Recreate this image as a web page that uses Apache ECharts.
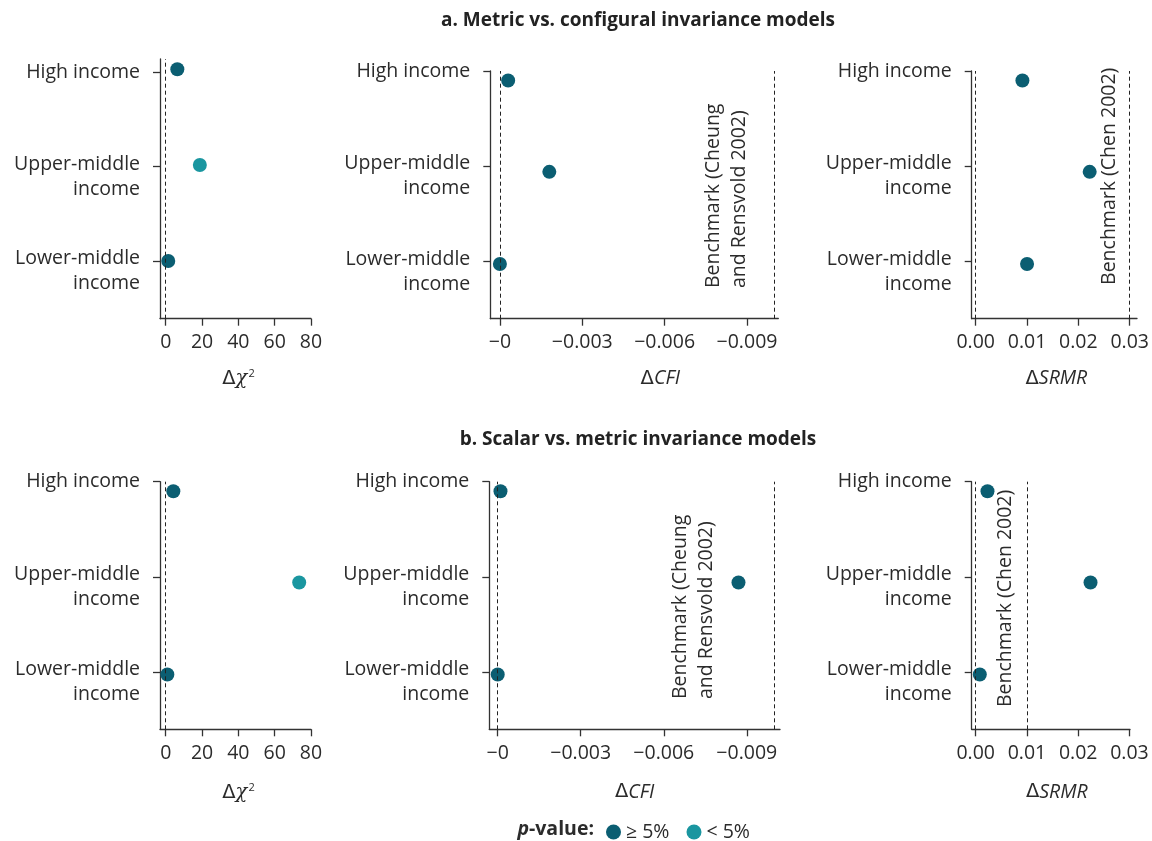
<!DOCTYPE html>
<html><head><meta charset="utf-8">
<script src="https://cdn.jsdelivr.net/npm/echarts@6/dist/echarts.min.js"></script>
<style>html,body{margin:0;padding:0;background:#fff}#c{width:1152px;height:841px}</style>
</head><body><div id="c"></div>
<script>
// ---------------- data ----------------
const categories = ['High income', 'Upper-middle income', 'Lower-middle income'];
const categoryLabels = ['High income', 'Upper-middle\nincome', 'Lower-middle\nincome'];
const categoryPos = [3, 2, 1];
const yDodgeA1 = [0.029, 0.018, 0.003];
const yDodge = [-0.10, -0.058, -0.025];

const chi2A = [6.4, 18.8, 1.4];
const cfiA = [-0.0003, -0.0018, 0.0];
const srmrA = [0.0091, 0.0222, 0.0100];
const chi2B = [4.2, 73.5, 0.9];
const cfiB = [-0.0001, -0.0087, 0.0];
const srmrB = [0.0023, 0.0224, 0.0008];

// p-value < 5% flags
const chi2BelowA = [false, true, false];
const cfiBelowA = [false, false, false];
const srmrBelowA = [false, false, false];
const chi2BelowB = [false, true, false];
const cfiBelowB = [false, false, false];
const srmrBelowB = [false, false, false];

const chi2Ticks = [0, 20, 40, 60, 80];
const cfiTicks = [0, -0.003, -0.006, -0.009];
const srmrTicks = [0, 0.01, 0.02, 0.03];

const cfiBenchmark = -0.0098;
const srmrBenchmarkA = 0.03;
const srmrBenchmarkB = 0.0097;
const cfiBenchmarkLabel = 'Benchmark (Cheung\nand Rensvold 2002)';
const srmrBenchmarkLabel = 'Benchmark (Chen 2002)';

const panelTitles = ['a. Metric vs. configural invariance models', 'b. Scalar vs. metric invariance models'];
const legendNames = ['≥ 5%', '< 5%'];

// ---------------- style ----------------
const FONT = 'Open Sans';
const TXT = '#2b2b2b';
const DARK = '#0B5E72';
const LIGHT = '#1A96A0';
const AXIS = '#333333';
const FS = 19.5;

const kinds = {
  chi2: { ticks: chi2Ticks, name: '{d|Δ}{i|χ}{s|2}', fmt: v => String(v) },
  cfi: { ticks: cfiTicks, name: '{d|Δ}{i|CFI}', fmt: v => '\u2212' + (v === 0 ? '0' : Math.abs(v).toFixed(3)), inverse: true },
  srmr: { ticks: srmrTicks, name: '{d|Δ}{i|SRMR}', fmt: v => v.toFixed(2) }
};

const panels = [
  { kind: 'chi2', values: chi2A, below: chi2BelowA, dodge: yDodgeA1, grid: { left: 160, top: 59, width: 151, height: 259.7 }, x: [-3.14, 80], y: [0.394, 3.137], nameGap: 50, nameShift: 3 },
  { kind: 'cfi', values: cfiA, below: cfiBelowA, dodge: yDodge, grid: { left: 490.3, top: 71, width: 288, height: 247.7 }, x: [-0.01014, 0.00035], y: [0.402, 3], nameGap: 50, nameShift: 26, bench: cfiBenchmark, benchLabel: cfiBenchmarkLabel, benchGap: 17, benchY: 0.724 },
  { kind: 'srmr', values: srmrA, below: srmrBelowA, dodge: yDodge, grid: { left: 971.7, top: 71, width: 165.6, height: 247.7 }, x: [-0.00078, 0.03142], y: [0.402, 3], nameGap: 50, nameShift: 2, bench: srmrBenchmarkA, benchLabel: srmrBenchmarkLabel, benchGap: 7, benchY: 0.756 },
  { kind: 'chi2', values: chi2B, below: chi2BelowB, dodge: yDodge, grid: { left: 160, top: 481.7, width: 151, height: 247.6 }, x: [-3.14, 80], y: [0.4, 3], nameGap: 53, nameShift: 3 },
  { kind: 'cfi', values: cfiB, below: cfiBelowB, dodge: yDodge, grid: { left: 489.3, top: 481.7, width: 290.7, height: 247.6 }, x: [-0.0102, 0.000304], y: [0.4, 3], nameGap: 53, nameShift: 0, bench: cfiBenchmark, benchLabel: cfiBenchmarkLabel, benchGap: 49, benchY: 0.718 },
  { kind: 'srmr', values: srmrB, below: srmrBelowB, dodge: yDodge, grid: { left: 971.7, top: 481.7, width: 158.3, height: 247.6 }, x: [-0.00078, 0.0301], y: [0.4, 3], nameGap: 53, nameShift: 6, bench: srmrBenchmarkB, benchLabel: srmrBenchmarkLabel, benchGap: 7, benchY: 0.634 }
];

const grids = [], xAxes = [], yAxes = [], series = [];
const dashStyle = { type: [4, 3], color: '#222', width: 1 };

panels.forEach((p, i) => {
  const k = kinds[p.kind];
  grids.push(Object.assign({ containLabel: false }, p.grid));
  xAxes.push({
    gridIndex: i, type: 'value', min: p.x[0], max: p.x[1], inverse: !!k.inverse,
    splitLine: { show: false },
    axisLine: { show: true, onZero: false, lineStyle: { color: AXIS, width: 1.3 } },
    axisTick: { show: true, customValues: k.ticks, length: 7, lineStyle: { color: AXIS, width: 1.3 } },
    axisLabel: { customValues: k.ticks, formatter: k.fmt, fontSize: FS, fontFamily: FONT, color: TXT, margin: 14 },
    name: k.name, nameLocation: 'middle', nameGap: p.nameGap,
    nameTextStyle: {
      padding: p.nameShift >= 0 ? [0, 0, 0, 2 * p.nameShift] : [0, -2 * p.nameShift, 0, 0],
      rich: {
        d: { fontSize: FS, fontFamily: 'DejaVu Sans', color: TXT },
        i: { fontSize: FS, fontFamily: p.kind === 'chi2' ? 'DejaVu Serif' : FONT, fontStyle: 'italic', color: TXT },
        s: { fontSize: 11, fontFamily: FONT, color: TXT, padding: [0, 0, 10, 1] }
      }
    }
  });
  yAxes.push({
    gridIndex: i, type: 'value', min: p.y[0], max: p.y[1],
    splitLine: { show: false },
    axisLine: { show: true, onZero: false, lineStyle: { color: AXIS, width: 1.3 } },
    axisTick: { show: true, customValues: categoryPos, length: 7, lineStyle: { color: AXIS, width: 1.3 } },
    axisLabel: {
      customValues: categoryPos, margin: 20,
      formatter: v => {
        const lab = categoryLabels[categoryPos.indexOf(v)];
        if (lab.indexOf('\n') < 0) return '{t|' + lab + '}';
        return '{e| }\n' + lab.split('\n').map(s => '{t|' + s + '}').join('\n');
      },
      rich: {
        t: { fontSize: FS, fontFamily: FONT, color: TXT, lineHeight: 25, align: 'right' },
        e: { fontSize: 2, lineHeight: 20 }
      }
    }
  });
  const mk = (flag) => p.values.map((v, j) => ({ v, j })).filter(o => p.below[o.j] === flag)
    .map(o => ({ name: categories[o.j], value: [o.v, categoryPos[o.j] + p.dodge[o.j]] }));
  const lines = [{ xAxis: 0 }];
  if (p.bench !== undefined) lines.push({ xAxis: p.bench });
  series.push({
    name: legendNames[0], type: 'scatter', xAxisIndex: i, yAxisIndex: i, symbolSize: 14,
    itemStyle: { color: DARK, opacity: 1 }, data: mk(false), z: 3,
    markLine: { silent: true, symbol: 'none', label: { show: false }, lineStyle: dashStyle, data: lines, animation: false }
  });
  series.push({
    name: legendNames[1], type: 'scatter', xAxisIndex: i, yAxisIndex: i, symbolSize: 14,
    itemStyle: { color: LIGHT, opacity: 1 }, data: mk(true), z: 3
  });
});

const chart = echarts.init(document.getElementById('c'), null, { renderer: 'canvas' });
chart.setOption({
  animation: false,
  backgroundColor: '#fff',
  textStyle: { fontFamily: FONT },
  title: [
    { text: panelTitles[0], left: 633, top: 6, textAlign: 'center', textStyle: { fontSize: 19, fontWeight: 'bold', fontFamily: FONT, color: '#222' } },
    { text: panelTitles[1], left: 633, top: 425, textAlign: 'center', textStyle: { fontSize: 19, fontWeight: 'bold', fontFamily: FONT, color: '#222' } }
  ],
  legend: {
    data: legendNames, left: 601, top: 817, icon: 'circle', itemWidth: 15, itemHeight: 15, itemGap: 17,
    textStyle: { fontSize: FS, fontFamily: FONT, color: TXT }, selectedMode: false
  },
  grid: grids, xAxis: xAxes, yAxis: yAxes, series: series
});

// benchmark labels + legend caption, positioned through the chart's own scales
const graphics = [];
panels.forEach((p, i) => {
  if (!p.benchLabel) return;
  const pt = chart.convertToPixel({ gridIndex: i }, [p.bench, p.benchY]);
  graphics.push({
    type: 'text', x: pt[0] - p.benchGap, y: pt[1], rotation: Math.PI / 2, silent: true,
    style: { text: p.benchLabel, fontSize: FS, fontFamily: FONT, fill: TXT, align: 'left', verticalAlign: 'bottom', lineHeight: 26 }
  });
});
graphics.push({
  type: 'text', x: 594, y: 829, silent: true,
  style: {
    text: '{p|p}{b|-value:}', align: 'right', verticalAlign: 'middle',
    rich: {
      p: { fontSize: FS, fontFamily: FONT, fontWeight: 'bold', fontStyle: 'italic', fill: TXT },
      b: { fontSize: FS, fontFamily: FONT, fontWeight: 'bold', fill: TXT }
    }
  }
});
chart.setOption({ graphic: graphics });
</script></body></html>
